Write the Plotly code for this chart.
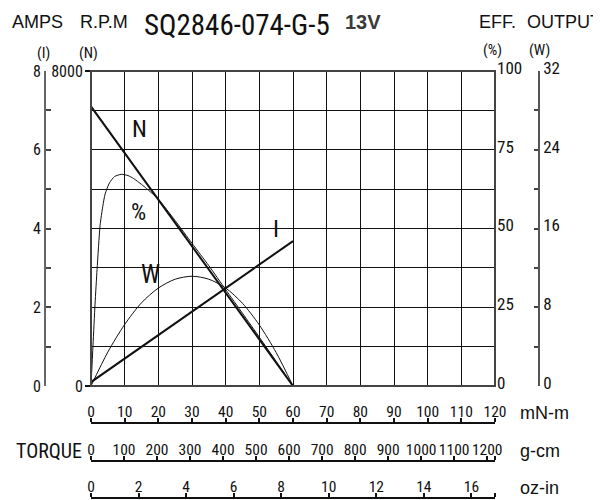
import plotly.graph_objects as go

# ---------------- data ----------------
torque_n = [0, 10, 20, 30, 40, 50, 60]              # mN-m
speed_rpm = [7100, 5920, 4730, 3550, 2370, 1180, 0]  # R.P.M (N)

torque_i = [0, 10, 20, 30, 40, 50, 60]
current_a = [0.1, 0.70, 1.29, 1.89, 2.49, 3.08, 3.68]  # AMPS (I)

torque_eff = [0, 0.6, 1.2, 1.8, 2.7, 3.5, 4.2, 5.5, 7, 9, 11, 12.6, 15, 16.5,
              20, 25, 30, 35, 40, 45, 50, 55, 60]
eff_pct = [0, 13, 26, 37, 51, 57, 61, 64.5, 66.5, 67.2, 66.8, 65.9, 64, 62.7,
           59.3, 52.5, 45.3, 38.2, 30.6, 23.1, 15.5, 7.8, 0]

torque_w = [0, 5, 10, 15, 20, 25, 30, 35, 40, 45, 50, 55, 60]
output_w = [0, 3.45, 6.25, 8.45, 9.95, 10.85, 11.15, 10.85, 9.95, 8.4, 6.2, 3.4, 0]

mnm_ticks = list(range(0, 130, 10))
gcm_ticks = list(range(0, 1300, 100))
ozin_ticks = list(range(0, 18, 2))
amp_ticks = list(range(0, 9))
amp_labels = ["0", "", "2", "", "4", "", "6", "", "8"]
eff_ticks = [0, 25, 50, 75, 100]
w_ticks = list(range(0, 36, 4))
w_labels = ["0", "", "8", "", "16", "", "24", "", "32"]

TMAX = 120.0
GCM_MAX = TMAX / 0.0980665
OZIN_MAX = TMAX / 7.0615518

# ---------------- layout geometry (window pixels) ----------------
WPX, HPX = 601, 500
OFF = 8  # page body margin
PL, PR, PT, PB = 91, 495, 71, 386


def px(x):
    return (x - OFF) / WPX


def py(y):
    return 1 - (y - OFF) / HPX


YDOM = [py(PB), py(PT)]
XDOM = [px(PL), px(PR)]

NARROW = "Liberation Sans Narrow, Roboto Condensed, DejaVu Sans Condensed, Arial Narrow, sans-serif"
SANS = "Liberation Sans, Arial, sans-serif"

fig = go.Figure()

fig.add_trace(go.Scatter(x=torque_i, y=current_a, mode="lines", xaxis="x", yaxis="y",
                         line=dict(color="#111", width=2), hoverinfo="skip"))
fig.add_trace(go.Scatter(x=torque_n, y=speed_rpm, mode="lines", xaxis="x", yaxis="y2",
                         line=dict(color="#111", width=2), hoverinfo="skip"))
fig.add_trace(go.Scatter(x=torque_eff, y=eff_pct, mode="lines", xaxis="x", yaxis="y4",
                         line=dict(color="#111", width=1, shape="spline", smoothing=0.6),
                         hoverinfo="skip"))
fig.add_trace(go.Scatter(x=torque_w, y=output_w, mode="lines", xaxis="x", yaxis="y5",
                         line=dict(color="#111", width=1, shape="spline", smoothing=0.8),
                         hoverinfo="skip"))
# empty traces so that the scale-only axes get drawn
for xa, ya in [("x", "y3"), ("x2", "y"), ("x3", "y"), ("x4", "y")]:
    fig.add_trace(go.Scatter(x=[], y=[], mode="lines", xaxis=xa, yaxis=ya,
                             hoverinfo="skip", showlegend=False))

tick_font_b = dict(family=NARROW, size=15.5, color="#111")
tick_font_lr = dict(family=NARROW, size=16, color="#111")


def bottom_axis(pos_px, rng, vals, texts):
    return dict(overlaying="x", anchor="free", position=py(pos_px), side="top",
                domain=XDOM, range=rng, tickmode="array", tickvals=vals, ticktext=texts,
                ticks="outside", ticklen=4, tickcolor="#111", tickwidth=1.5,
                ticklabelstandoff=-5,
                showline=True, linecolor="#111", linewidth=1.5,
                showgrid=False, zeroline=False, tickfont=tick_font_b, automargin=False)


layout = dict(
    width=WPX, height=HPX,
    margin=dict(l=0, r=0, t=0, b=0),
    paper_bgcolor="white", plot_bgcolor="white",
    showlegend=False,
    xaxis=dict(domain=XDOM, range=[0, TMAX], dtick=10, tick0=0,
               showgrid=True, gridcolor="#111", gridwidth=1,
               showticklabels=False, ticks="", zeroline=False, showline=False,
               anchor="y", automargin=False),
    xaxis2=bottom_axis(423, [0, TMAX], mnm_ticks, [str(v) for v in mnm_ticks]),
    xaxis3=bottom_axis(461, [0, GCM_MAX], gcm_ticks + [GCM_MAX],
                       [str(v) for v in gcm_ticks] + [""]),
    xaxis4=bottom_axis(498, [0, OZIN_MAX], ozin_ticks + [OZIN_MAX],
                       [str(v) for v in ozin_ticks] + [""]),
    # current (I) data axis, also draws the horizontal grid
    yaxis=dict(domain=YDOM, range=[0, 8], dtick=1, tick0=0,
               showgrid=True, gridcolor="#111", gridwidth=1,
               showticklabels=False, ticks="", zeroline=False, showline=False,
               anchor="x", automargin=False),
    # speed axis (N)
    yaxis2=dict(overlaying="y", anchor="x", side="left", range=[0, 8000], domain=YDOM,
                tickmode="array", tickvals=[0, 8000], ticktext=["0", "8000"],
                ticks="outside", ticklen=5, tickcolor="#111", tickwidth=1.5,
                ticklabelstandoff=-1,
                showgrid=False, zeroline=False, showline=False,
                tickfont=tick_font_lr, automargin=False),
    # current axis (I) scale on the far left
    yaxis3=dict(overlaying="y", anchor="free", position=px(45), side="left", domain=YDOM,
                range=[0, 8], tickmode="array", tickvals=amp_ticks, ticktext=amp_labels,
                ticks="inside", ticklen=5, tickcolor="#444", tickwidth=1.5,
                showline=True, linecolor="#666", linewidth=2,
                showgrid=False, zeroline=False, tickfont=tick_font_lr, automargin=False),
    # efficiency axis (%)
    yaxis4=dict(overlaying="y", anchor="x", side="right", range=[0, 100], domain=YDOM,
                tickmode="array", tickvals=eff_ticks, ticktext=[str(v) for v in eff_ticks],
                ticks="", ticklabelshift=-3, ticklabelstandoff=1,
                showgrid=False, zeroline=False, showline=False,
                tickfont=dict(family=NARROW, size=17, color="#111"), automargin=False),
    # output axis (W)
    yaxis5=dict(overlaying="y", anchor="free", position=px(539), side="right", domain=YDOM,
                range=[0, 32], tickmode="array", tickvals=w_ticks, ticktext=w_labels,
                ticks="inside", ticklen=4, tickcolor="#444", tickwidth=1.5,
                ticklabelshift=-3,
                showline=True, linecolor="#555", linewidth=1.5,
                showgrid=False, zeroline=False,
                tickfont=dict(family=NARROW, size=17, color="#111"), automargin=False),
)
fig.update_layout(**layout)

# plot frame
fig.add_shape(type="rect", xref="x domain", yref="y domain", x0=0, x1=1, y0=0, y1=1,
              line=dict(color="#444", width=2), fillcolor="rgba(0,0,0,0)", layer="above")


def label(text, x, y, size, family=SANS, xanchor="center", color="#111", bold=False):
    if bold:
        text = "<b>" + text + "</b>"
    fig.add_annotation(text=text, x=px(x), y=py(y), xref="paper", yref="paper",
                       xanchor=xanchor, yanchor="middle", showarrow=False,
                       font=dict(family=family, size=size, color=color))


# header texts
label("AMPS", 10, 22, 18, xanchor="left")
label("R.P.M", 78, 22, 18, xanchor="left")
label("SQ2846-074-G-5", 142, 25, 29, family=NARROW, xanchor="left")
label("13V", 343, 22, 20, xanchor="left", color="#3a3a3a", bold=True)
label("EFF.", 477, 22, 18, xanchor="left")
label("OUTPUT", 525, 22, 18, xanchor="left")
label("(I)", 43, 53, 15, family=NARROW)
label("(N)", 88, 53, 15, family=NARROW)
label("(%)", 493, 50, 15, family=NARROW)
label("(W)", 539, 50, 15, family=NARROW)

# curve labels
label("N", 139, 129, 24, family=NARROW)
label("%", 138, 212, 24, family=NARROW)
label("W", 150, 274, 25, family=NARROW)
label("I", 276, 229, 24, family=NARROW)

# bottom unit labels
label("mN-m", 518, 413, 18, xanchor="left")
label("g-cm", 518, 451, 18, xanchor="left")
label("oz-in", 518, 488, 18, xanchor="left")
label("TORQUE", 14, 451, 20, family=NARROW, xanchor="left")

fig.write_html("out.html")
